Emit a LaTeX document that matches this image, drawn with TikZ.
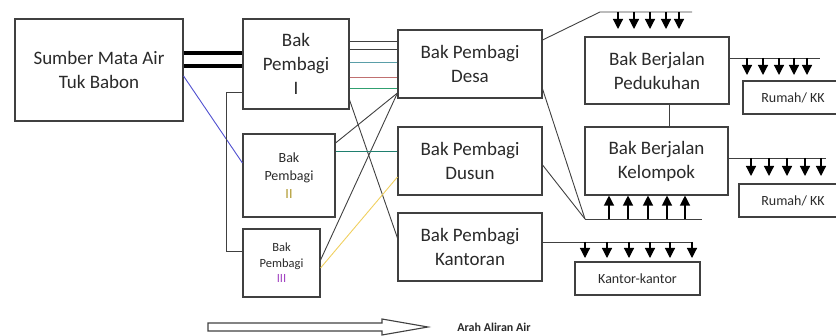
\documentclass[tikz,border=0pt]{standalone}
\usepackage{fontspec}
\setmainfont{Carlito}
\usepackage{tikz}
\usetikzlibrary{arrows.meta}
\usetikzlibrary{positioning}
\definecolor{boxgray}{HTML}{404040}
\definecolor{txtgray}{HTML}{2A2A2A}
\definecolor{pipeteal}{HTML}{5A9EA8}
\definecolor{pipered}{HTML}{C07070}
\definecolor{pipegreen}{HTML}{30A070}
\definecolor{pipedark}{HTML}{1F7F6F}
\definecolor{pipeyellow}{HTML}{F0D060}
\definecolor{pipeblue}{HTML}{5050D0}
\definecolor{olive}{HTML}{B09A30}
\definecolor{ungu}{HTML}{A040C0}
\tikzstyle{bak}=[draw=boxgray, line width=1.1pt, align=center, inner sep=0pt, text=txtgray]
\tikzstyle{bigtext}=[font=\fontsize{19}{24}\selectfont]
\tikzstyle{pipe}=[draw=boxgray, line width=0.9pt]
\tikzstyle{tap}=[pipe, draw=black, line width=1.2pt, -{Triangle[width=10pt,length=10pt]}]

\begin{document}
\begin{tikzpicture}[x=1pt, y=-1pt]
\useasboundingbox (0,0) rectangle (836,336);
\node[bak, bigtext, minimum width=168pt, minimum height=102pt] (sumber) at (99,70){Sumber Mata Air\\Tuk Babon};
\node[bak, bigtext, minimum width=106pt, minimum height=90pt] (bakI) at (296,64){Bak\\Pembagi\\I};
\node[bak, font=\fontsize{14}{18}\selectfont, minimum width=92pt, minimum height=83pt] (bakII) at (289,175.5){Bak\\Pembagi\\\textcolor{olive}{II}};
\node[bak, font=\fontsize{12.5}{15.5}\selectfont, minimum width=77pt, minimum height=68pt] (bakIII) at (281.5,263){Bak\\Pembagi\\\textcolor{ungu}{III}};
\node[bak, bigtext, minimum width=144pt, minimum height=68pt] (desa) at (470,64){Bak Pembagi\\Desa};
\node[bak, bigtext, minimum width=144pt, minimum height=68pt] (dusun) at (470,161){Bak Pembagi\\Dusun};
\node[bak, bigtext, minimum width=144pt, minimum height=68pt] (kantoran) at (470,247){Bak Pembagi\\Kantoran};
\node[bak, bigtext, minimum width=144pt, minimum height=67pt] (pedukuhan) at (657,70.5){Bak Berjalan\\Pedukuhan};
\node[bak, bigtext, minimum width=143pt, minimum height=68pt] (kelompok) at (656.5,161){Bak Berjalan\\Kelompok};
\node[bak, font=\fontsize{14}{17}\selectfont, minimum width=100pt, minimum height=33pt] (rumah1) at (793,97.5){Rumah/ KK};
\node[bak, font=\fontsize{14}{17}\selectfont, minimum width=108pt, minimum height=33pt] (rumah2) at (793,200.5){Rumah/ KK};
\node[bak, font=\fontsize{14}{17}\selectfont, minimum width=125pt, minimum height=33pt] (kantor) at (637.5,278.5){Kantor-kantor};
\node[font=\bfseries\fontsize{12}{14}\selectfont, text=txtgray] (arah) at (494,327){Arah Aliran Air};
\coordinate (cabang) at (585,219);
\coordinate (puncak) at (600,12);
\draw[pipe, draw=black, line width=3.5pt](sumber.east |- 0,53) -- (bakI.west |- 0,53);
\draw[pipe, draw=black, line width=3.5pt](sumber.east |- 0,66) -- (bakI.west |- 0,66);
\draw[pipe, draw=pipeblue](sumber.east |- 0,76) -- (bakII.west |- 0,163);
\draw[pipe](bakI.west |- 0,92) -- ++(-16,0) |- (bakIII.west |- 0,251);
\draw[pipe](bakI.east |- 0,41) -- (desa.west |- 0,41);
\draw[pipe](bakI.east |- 0,49) -- (desa.west |- 0,49);
\draw[pipe, draw=pipeteal](bakI.east |- 0,62) -- (desa.west |- 0,62);
\draw[pipe, draw=pipered](bakI.east |- 0,77) -- (desa.west |- 0,77);
\draw[pipe, draw=pipegreen](bakI.east |- 0,88) -- (desa.west |- 0,88);
\draw[pipe](bakI.east |- 0,100) -- (kantoran.west |- 0,238);
\draw[pipe](bakII.east |- 0,143) -- (desa.west |- 0,93);
\draw[pipe](bakIII.east |- 0,260) -- (desa.west |- 0,93);
\draw[pipe, draw=pipedark](bakII.east |- 0,151) -- (dusun.west |- 0,151);
\draw[pipe, draw=pipeyellow](bakIII.east |- 0,268) -- (dusun.west |- 0,177);
\draw[pipe](desa.east |- 0,40) -- (puncak) -- (692,12);
\draw[pipe](desa.east |- 0,89) -- (cabang);
\draw[pipe](dusun.east |- 0,165) -- (cabang);
\draw[pipe](cabang) -- (702,219);
\draw[pipe]([xshift=12pt]pedukuhan.south) -- ([xshift=12pt]pedukuhan.south |- kelompok.north);
\draw[pipe](pedukuhan.east |- 0,58) -- (820,58);
\draw[pipe](kelompok.east |- 0,158) -- (826,158);
\draw[pipe](kantoran.east |- 0,242) -- (692,242);
\foreach \x in {618,634,650,666,679} \draw[tap](\x,12) -- (\x,29);
\foreach \x in {747,763,779,794,807} \draw[tap](\x,58) -- (\x,75);
\foreach \x in {751,769,787,805,821} \draw[tap](\x,158) -- (\x,176);
\foreach \x in {609,628,648,667,685} \draw[tap](\x,219) -- (kelompok.south -| \x,0);
\foreach \x in {585,607,629,650,670,692} \draw[tap](\x,242) -- (\x,258);
\draw[pipe, line width=1.1pt](208,323) -- (382,323) -- (382,319) -- (428,327) -- (382,335) -- (382,331) -- (208,331) -- cycle;
\end{tikzpicture}
\end{document}
